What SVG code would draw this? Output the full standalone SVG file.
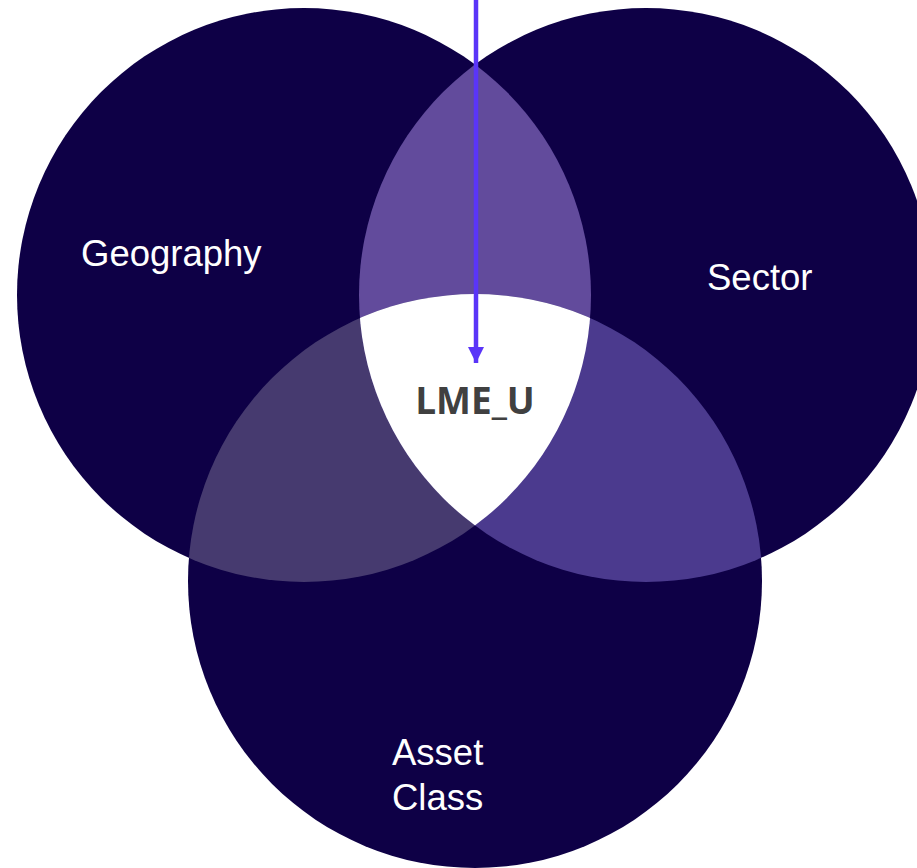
<svg xmlns="http://www.w3.org/2000/svg" width="917" height="868" viewBox="0 0 917 868">
  <style>
    .set { fill: #0e0046; }
    .label { font-family: "Liberation Sans", Arial, sans-serif; font-size: 36.5px; fill: #ffffff; }
    .core { font-family: "Open Sans", "Noto Sans", sans-serif; font-weight: bold; font-size: 37px; fill: #404040; }
    .arrow { stroke: #5a35f8; stroke-width: 4.5; fill: none; }
  </style>
  <defs>
    <circle id="cGeo" cx="304" cy="295" r="287"/>
    <circle id="cSec" cx="646" cy="295" r="287"/>
    <circle id="cAsset" cx="475" cy="581" r="287"/>
    <clipPath id="clipGeo"><use href="#cGeo"/></clipPath>
    <clipPath id="clipSec"><use href="#cSec"/></clipPath>
    <marker id="head" viewBox="0 0 16 16" refX="16" refY="8" markerWidth="16" markerHeight="16" markerUnits="userSpaceOnUse" orient="auto">
      <path d="M0,0 L16,8 L0,16 Z" fill="#5a35f8"/>
    </marker>
  </defs>

  <rect width="917" height="868" fill="#ffffff"/>

  <!-- base sets -->
  <g id="geography">
    <use href="#cGeo" class="set"/>
    <text class="label" x="81" y="266">Geography</text>
  </g>
  <g id="sector">
    <use href="#cSec" class="set"/>
  </g>
  <g id="asset-class">
    <use href="#cAsset" class="set"/>
  </g>

  <!-- pairwise overlaps -->
  <g id="geo-sector">
    <use href="#cSec" clip-path="url(#clipGeo)" fill="#624b9c"/>
  </g>
  <g id="geo-asset">
    <use href="#cAsset" clip-path="url(#clipGeo)" fill="#463a6f"/>
  </g>
  <g id="sector-asset">
    <use href="#cAsset" clip-path="url(#clipSec)" fill="#4b3a8e"/>
  </g>

  <!-- triple overlap -->
  <g id="lme-u">
    <g clip-path="url(#clipSec)">
      <use href="#cAsset" clip-path="url(#clipGeo)" fill="#ffffff"/>
    </g>
    <text class="core" x="475" y="414" text-anchor="middle">LME_U</text>
  </g>

  <g id="labels">
    <text class="label" x="707" y="290">Sector</text>
    <text class="label" x="392" y="765">Asset</text>
    <text class="label" x="392" y="810">Class</text>
  </g>

  <!-- connector -->
  <g id="connectors">
    <line class="arrow" x1="476" y1="0" x2="476" y2="363" marker-end="url(#head)"/>
  </g>
</svg>
